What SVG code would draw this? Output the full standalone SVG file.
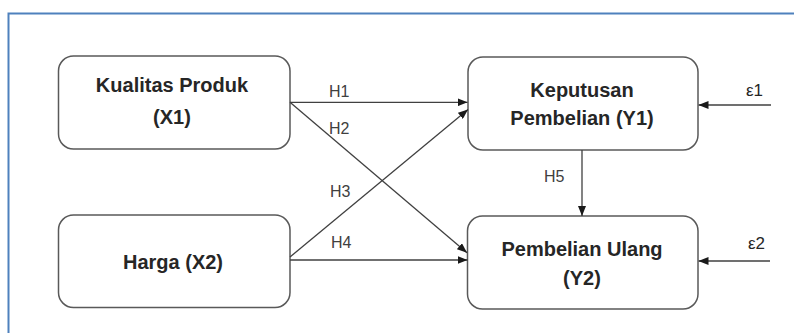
<svg xmlns="http://www.w3.org/2000/svg" width="794" height="333" viewBox="0 0 794 333">
<style>
.box{fill:#fff;stroke:#595959;stroke-width:1.5}
.nt{font-family:"Liberation Sans",Arial,sans-serif;font-weight:bold;font-size:20px;fill:#262626;text-anchor:middle}
.lb{font-family:"Liberation Sans",Arial,sans-serif;font-size:16px;fill:#404040}
.ep{font-family:"Liberation Sans",Arial,sans-serif;font-size:17px;fill:#262626}
.cn{stroke:#404040;stroke-width:1.3;fill:none;marker-end:url(#ah)}
.frame{stroke:#4f81bd;stroke-width:2;fill:none}
</style>
<defs>
<marker id="ah" viewBox="0 0 10 8" refX="10" refY="4" markerWidth="10" markerHeight="8" markerUnits="userSpaceOnUse" orient="auto">
<path d="M0,0 L10,4 L0,8 Z" fill="#1a1a1a"/>
</marker>
</defs>
<rect width="794" height="333" fill="#fff"/>
<path class="frame" d="M8.5,333 V13.5 H794"/>
<g id="x1">
<rect class="box" x="58.5" y="56" width="231.5" height="93" rx="15"/>
<text class="nt" x="172" y="92">Kualitas Produk</text>
<text class="nt" x="172" y="124">(X1)</text>
</g>
<g id="x2">
<rect class="box" x="58.5" y="215" width="231.5" height="92.5" rx="15"/>
<text class="nt" x="173" y="269">Harga (X2)</text>
</g>
<g id="y1">
<rect class="box" x="468" y="57" width="230" height="93" rx="15"/>
<text class="nt" x="582" y="97">Keputusan</text>
<text class="nt" x="582" y="125">Pembelian (Y1)</text>
</g>
<g id="y2">
<rect class="box" x="467.5" y="216" width="230.5" height="93" rx="15"/>
<text class="nt" x="582" y="256">Pembelian Ulang</text>
<text class="nt" x="582" y="285">(Y2)</text>
</g>
<g id="connectors">
<line class="cn" x1="290" y1="102.3" x2="467.5" y2="102.3"/>
<line class="cn" x1="290" y1="102.3" x2="467" y2="252.7"/>
<line class="cn" x1="290" y1="257" x2="468" y2="109.5"/>
<line class="cn" x1="290" y1="260" x2="467.5" y2="260"/>
<line class="cn" x1="582" y1="150" x2="582" y2="216"/>
<line class="cn" x1="771" y1="105" x2="698.5" y2="105"/>
<line class="cn" x1="770" y1="261" x2="698.5" y2="261"/>
<text class="lb" x="329" y="97">H1</text>
<text class="lb" x="329" y="134">H2</text>
<text class="lb" x="330" y="197">H3</text>
<text class="lb" x="331" y="248">H4</text>
<text class="lb" x="544" y="182">H5</text>
<text class="ep" x="746" y="96">ε1</text>
<text class="ep" x="748" y="249">ε2</text>
</g>
</svg>
